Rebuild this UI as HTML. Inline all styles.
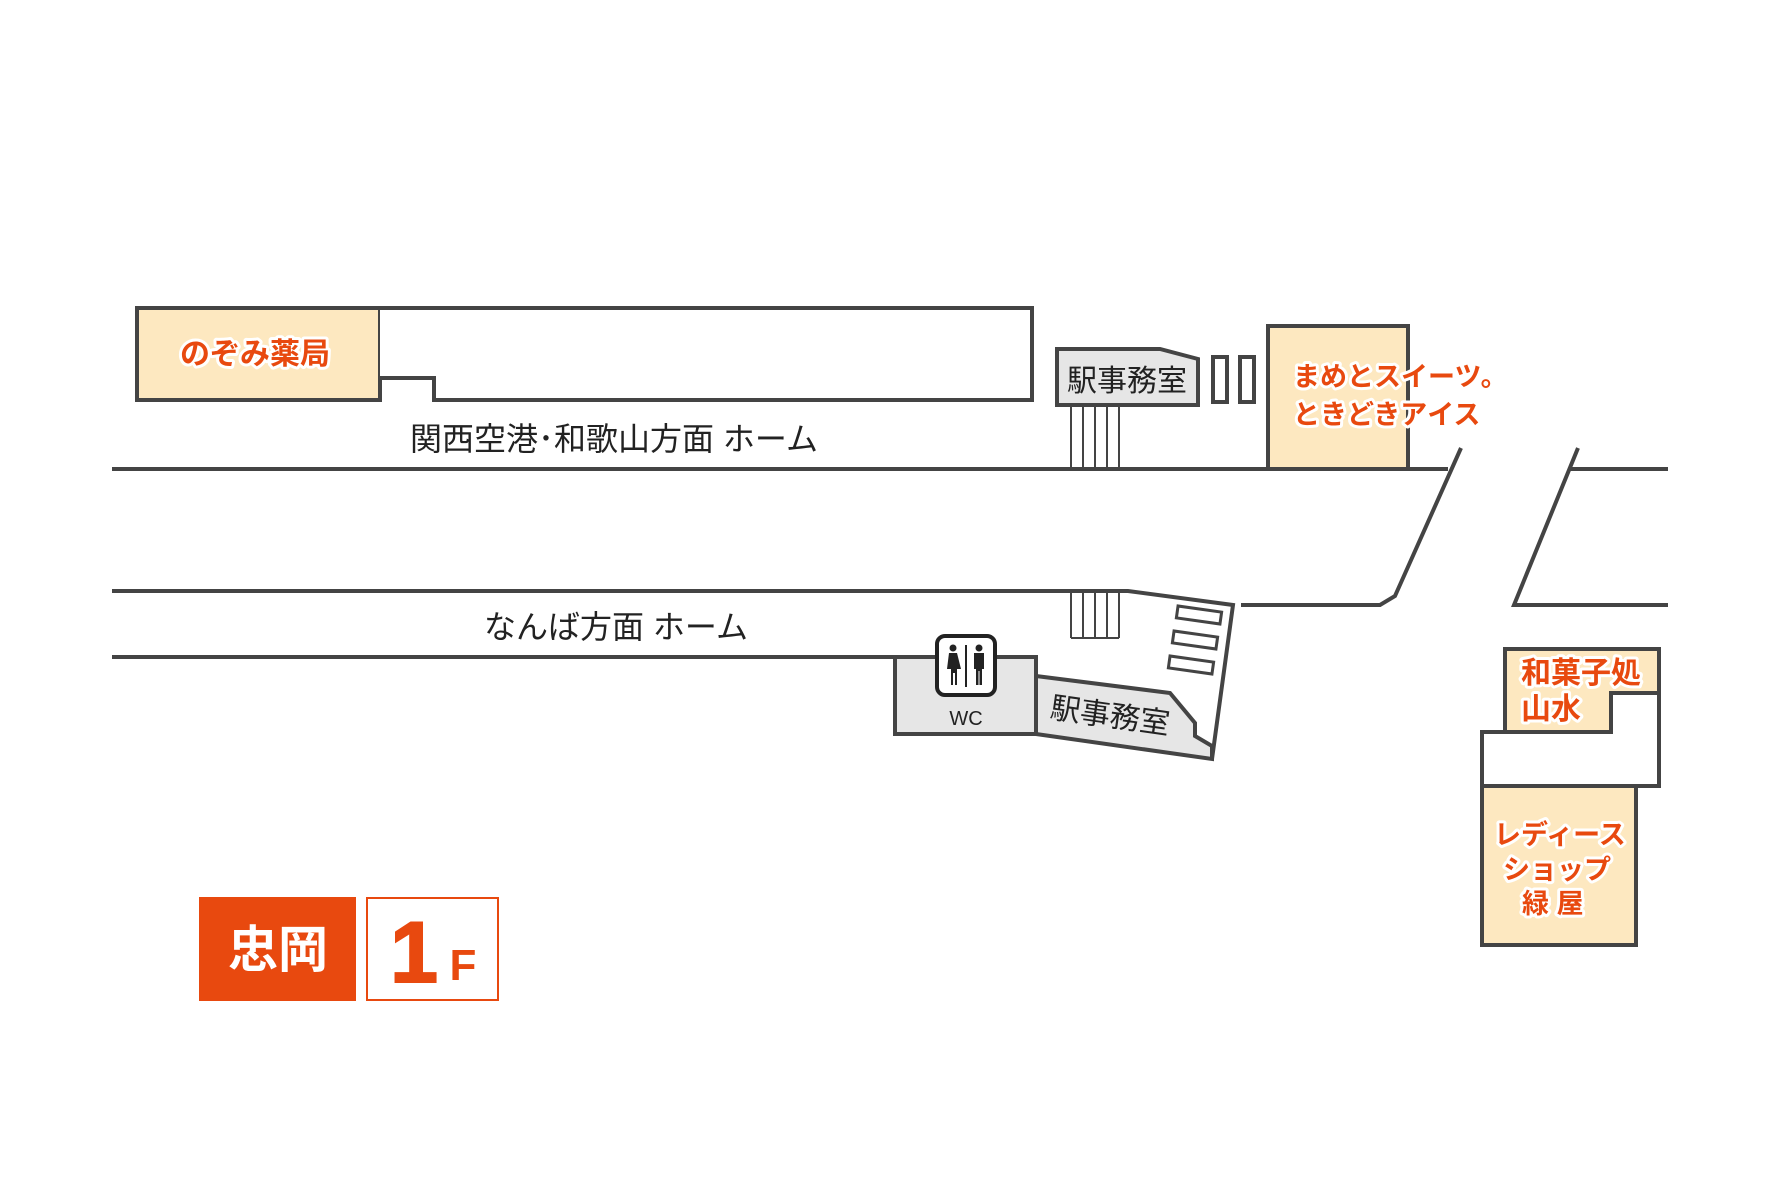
<!DOCTYPE html>
<html><head><meta charset="utf-8"><style>
html,body{margin:0;padding:0;background:#fff}
svg{display:block}
.t{font-family:"Liberation Sans","Noto Sans CJK JP",sans-serif}
.o{fill:#e8490f;font-weight:bold;stroke:#fff;stroke-width:6;paint-order:stroke;stroke-linejoin:round}
</style></head><body>
<svg width="1790" height="1193" viewBox="0 0 1790 1193" xmlns="http://www.w3.org/2000/svg">
<g fill="none" stroke="#444" stroke-width="4">
<rect x="137" y="308" width="243" height="92" fill="#fde8c0"/>
<polyline points="380,308 1032,308 1032,400 434,400 434,378 380,378" fill="#fff"/>
<polygon points="1057,349 1160,349 1198,359 1198,405 1057,405" fill="#e6e6e6"/>
<g stroke-width="2"><line x1="1071" y1="405" x2="1071" y2="469"/><line x1="1083" y1="405" x2="1083" y2="469"/><line x1="1095" y1="405" x2="1095" y2="469"/><line x1="1107" y1="405" x2="1107" y2="469"/><line x1="1119" y1="405" x2="1119" y2="469"/></g>
<rect x="1213" y="357" width="14" height="45" fill="#fff"/>
<rect x="1240" y="357" width="14" height="45" fill="#fff"/>
<rect x="1268" y="326" width="140" height="143" fill="#fde8c0"/>
<polyline points="112,469 1448,469"/>
<polyline points="1461,448 1395,596 1380,605 1241,605"/>
<polyline points="1578,448 1514,605 1668,605"/>
<line x1="1570" y1="469" x2="1668" y2="469"/>
<polyline points="112,591 1128,591 1233,605 1212,759"/>
<line x1="112" y1="657" x2="895" y2="657"/>
<g stroke-width="2"><line x1="1071" y1="591" x2="1071" y2="638"/><line x1="1083" y1="591" x2="1083" y2="638"/><line x1="1095" y1="591" x2="1095" y2="638"/><line x1="1107" y1="591" x2="1107" y2="638"/><line x1="1119" y1="591" x2="1119" y2="638"/><line x1="1071" y1="638" x2="1119" y2="638"/></g>
<g stroke-width="3"><rect x="1177" y="609" width="44" height="12" transform="rotate(8 1199 615)"/><rect x="1173" y="634" width="44" height="12" transform="rotate(8 1195 640)"/><rect x="1169" y="659" width="44" height="12" transform="rotate(8 1191 665)"/></g>
<polygon points="1036,676 1170,693 1195,723 1195,736 1212,746 1212,759 1036,734" fill="#e6e6e6"/>
<rect x="895" y="657" width="141" height="77" fill="#e6e6e6"/>
<polygon points="1505,649 1659,649 1659,693 1611,693 1611,732 1505,732" fill="#fde8c0"/>
<polygon points="1482,732 1611,732 1611,693 1659,693 1659,786 1482,786" fill="#fff"/>
<rect x="1482" y="786" width="154" height="159" fill="#fde8c0"/>
</g>
<rect x="937" y="636" width="58" height="59" rx="8" fill="#fff" stroke="#222" stroke-width="4"/>
<line x1="966" y1="645" x2="966" y2="687" stroke="#222" stroke-width="2"/>
<g fill="#222"><circle cx="953" cy="648" r="3.5"/><path d="M949 653h8l4 16h-4v16h-2v-12h-2v12h-2v-16h-4z"/><circle cx="979" cy="648" r="3.5"/><path d="M974 653h10v16h-2v16h-2.5v-14h-1v14h-2.5v-16h-2z"/></g>
<text x="966" y="725" class="t" font-size="20" text-anchor="middle" fill="#222">WC</text>
<g class="t" fill="#222" font-size="32" text-anchor="middle">
<text x="614" y="450">関西空港･和歌山方面 ホーム</text>
<text x="616" y="638">なんば方面 ホーム</text>
<text x="1127" y="391" font-size="30">駅事務室</text>
<text x="1110" y="726" font-size="30" transform="rotate(8 1110 716)">駅事務室</text>
</g>
<g class="t o" font-size="30">
<text x="180" y="364">のぞみ薬局</text>
<text x="1293" y="386" font-size="27">まめとスイーツ。</text>
<text x="1293" y="424" font-size="27">ときどきアイス</text>
<text x="1521" y="683">和菓子処</text>
<text x="1521" y="719">山水</text>
<text x="1494" y="844" font-size="27">レディース</text>
<text x="1503" y="879" font-size="27">ショップ</text>
<text x="1522" y="913" font-size="27">緑 屋</text>
</g>
<rect x="199" y="897" width="157" height="104" fill="#e8490f"/>
<text x="278" y="967" class="t" font-size="50" font-weight="bold" fill="#fff" text-anchor="middle">忠岡</text>
<rect x="367" y="898" width="131" height="102" fill="#fff" stroke="#e8490f" stroke-width="2"/>
<text x="414" y="982" class="t" font-size="86" font-weight="900" fill="#e8490f" text-anchor="middle" stroke="#e8490f" stroke-width="2">1</text>
<text x="463" y="980" class="t" font-size="44" font-weight="bold" fill="#e8490f" text-anchor="middle">F</text>
</svg>
</body></html>
